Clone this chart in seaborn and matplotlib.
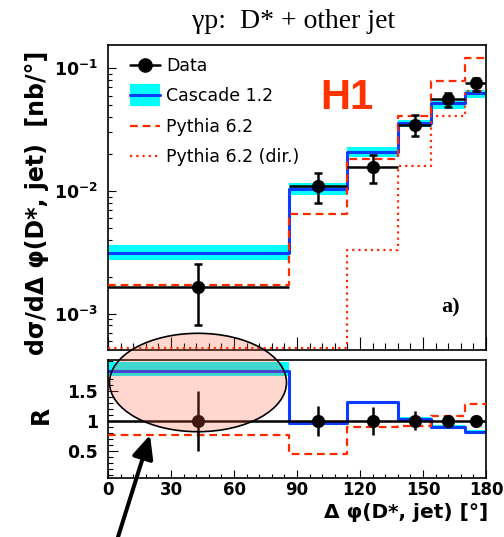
import numpy as np
import pandas as pd
import matplotlib
matplotlib.use("Agg")
import matplotlib.pyplot as plt
import seaborn as sns
from matplotlib.patches import Ellipse, FancyArrowPatch
from matplotlib.lines import Line2D
from matplotlib.ticker import MultipleLocator, LogLocator, NullFormatter, FixedLocator

# ---------------- data ----------------
bin_edges = [0, 86, 114, 138, 154, 170, 180]
bin_centers = [43, 100, 126, 146, 162, 175]

data_xsec = [1.66e-3, 1.09e-2, 1.57e-2, 3.46e-2, 5.6e-2, 7.53e-2]
data_hi = [2.54e-3, 1.39e-2, 1.96e-2, 4.2e-2, 6.3e-2, 8.4e-2]
data_lo = [8.1e-4, 7.9e-3, 1.16e-2, 2.81e-2, 4.85e-2, 6.55e-2]

cascade = [3.13e-3, 1.03e-2, 2.09e-2, 3.56e-2, 5.17e-2, 6.24e-2]
cascade_lo = [2.74e-3, 9.2e-3, 1.9e-2, 3.3e-2, 4.7e-2, 5.68e-2]
cascade_hi = [3.6e-3, 1.16e-2, 2.29e-2, 3.78e-2, 5.42e-2, 6.64e-2]

pythia = [1.7e-3, 6.44e-3, 1.81e-2, 4.06e-2, 7.87e-2, 0.121]
pythia_dir = [5.2e-4, 5.2e-4, 3.31e-3, 1.59e-2, 4.06e-2, 6.5e-2]

ratio_data = [1, 1, 1, 1, 1, 1]
ratio_err = [0.5, 0.25, 0.23, 0.16, 0.1, 0.1]
ratio_cascade = [1.83, 0.96, 1.31, 1.03, 0.905, 0.81]
ratio_cascade_lo = [1.76, 0.93, 1.28, 1.0, 0.88, 0.78]
ratio_cascade_hi = [1.98, 0.97, 1.34, 1.06, 0.93, 0.84]
ratio_pythia = [0.77, 0.45, 0.89, 0.92, 1.08, 1.28]

x_ticks = [0, 30, 60, 90, 120, 150, 180]
title_text = "γp:  D* + other jet"
ylabel_top = "dσ/dΔ φ(D*, jet)  [nb/°]"
ylabel_bot = "R"
xlabel = "Δ φ(D*, jet) [°]"
legend_labels = ["Data", "Cascade 1.2", "Pythia 6.2", "Pythia 6.2 (dir.)"]

# ---------------- style ----------------
sns.set_style("ticks")
plt.rcParams["font.family"] = ["DejaVu Sans"]
plt.rcParams["mathtext.fontset"] = "dejavusans"
for key in ["text.color", "axes.labelcolor", "xtick.color", "ytick.color",
            "axes.edgecolor"]:
    plt.rcParams[key] = "black"

BLUE = "#0a3cff"
CYAN = "#00ffff"
RED = "#ff2a00"
DASH = (0, (3.5, 2.2))
DOT = (0, (1.0, 1.8))

fig = plt.figure(figsize=(5.04, 5.37), dpi=100)
W, H = 504.0, 537.0
ax = fig.add_axes([108 / W, 1 - 350 / H, 378 / W, 305 / H])
axr = fig.add_axes([108 / W, 1 - 477.5 / H, 378 / W, 117.5 / H])


def ext(v):
    return list(v) + [v[-1]]


def step(axis, vals, **kw):
    df = pd.DataFrame({"x": bin_edges, "y": ext(vals)})
    sns.lineplot(data=df, x="x", y="y", ax=axis, drawstyle="steps-post",
                 sort=False, estimator=None, legend=False, **kw)


# ---------------- top panel ----------------
ax.set_yscale("log")
ax.fill_between(bin_edges, ext(cascade_lo), ext(cascade_hi), step="post",
                color=CYAN, lw=0, zorder=1)
step(ax, cascade, color=BLUE, lw=2.2, zorder=2)
step(ax, pythia, color=RED, lw=1.6, linestyle=DASH, zorder=3)
step(ax, pythia_dir, color=RED, lw=1.6, linestyle=DOT, zorder=3)

yc = np.array(data_xsec)
xc = np.array(bin_centers)
edges = np.array(bin_edges)
xerr = [xc - edges[:-1], edges[1:] - xc]
ax.errorbar(xc, yc, xerr=xerr, fmt="none", ecolor="black", elinewidth=1.8,
            capsize=0, zorder=4)
ax.errorbar(xc, yc, yerr=[yc - np.array(data_lo), np.array(data_hi) - yc],
            fmt="none", ecolor="black", elinewidth=1.8, capsize=3.2,
            capthick=1.8, zorder=4)
sns.scatterplot(x=bin_centers, y=data_xsec, ax=ax, color="black", s=90,
                edgecolor="black", linewidth=0, zorder=5, legend=False)

ax.set_xlim(0, 180)
ax.set_ylim(5.04e-4, 0.155)
ax.set_xlabel("")
ax.set_ylabel("")
ax.xaxis.set_major_locator(FixedLocator(x_ticks))
ax.xaxis.set_minor_locator(MultipleLocator(6))
ax.set_xticklabels([])
ax.yaxis.set_major_locator(FixedLocator([1e-3, 1e-2, 1e-1]))
ax.set_yticklabels([r"$\mathbf{10^{-3}}$", r"$\mathbf{10^{-2}}$", r"$\mathbf{10^{-1}}$"])
ax.yaxis.set_minor_locator(LogLocator(base=10, subs=np.arange(2, 10)))
ax.yaxis.set_minor_formatter(NullFormatter())
ax.tick_params(axis="x", which="major", direction="in", length=9.4, width=0.8,
               top=False)
ax.tick_params(axis="x", which="minor", direction="in", length=5, width=0.8,
               top=False)
ax.tick_params(axis="y", which="major", direction="in", length=6, width=0.8,
               right=False, labelsize=12.5, pad=7)
ax.tick_params(axis="y", which="minor", direction="in", length=3.2, width=0.8,
               right=False)
for s in ax.spines.values():
    s.set_visible(True)
    s.set_linewidth(1.2)
    s.set_color("black")

handles = [
    Line2D([], [], color="black", marker="o", markersize=9.5, lw=1.8),
    (Line2D([], [], color=CYAN, lw=16, solid_capstyle="butt"),
     Line2D([], [], color=BLUE, lw=2.2)),
    Line2D([], [], color=RED, lw=1.6, linestyle=DASH),
    Line2D([], [], color=RED, lw=1.6, linestyle=DOT),
]
ax.legend(handles, legend_labels, loc="upper left",
          bbox_to_anchor=(0.058, 0.962), frameon=False, borderpad=0,
          borderaxespad=0, fontsize=12.5, handlelength=1.72,
          handletextpad=0.35, labelspacing=0.72)

ax.text(0.632, 0.826, "H1", transform=ax.transAxes, ha="center", va="center",
        fontsize=30, fontweight="bold", color="#ff3300", family="Liberation Sans")
ax.text(0.931, 0.141, "a)", transform=ax.transAxes, ha="right", va="center",
        fontsize=16, fontweight="bold", family="Liberation Serif")

# ---------------- ratio panel ----------------
axr.fill_between(bin_edges, ext(ratio_cascade_lo), ext(ratio_cascade_hi),
                 step="post", color=CYAN, lw=0, zorder=1)
step(axr, ratio_cascade, color=BLUE, lw=2.2, zorder=2)
step(axr, ratio_pythia, color=RED, lw=1.6, linestyle=DASH, zorder=3)
axr.axhline(1, color="black", lw=1.8, zorder=4)
axr.errorbar(bin_centers, ratio_data, yerr=ratio_err, fmt="none",
             ecolor="black", elinewidth=1.8, capsize=0, zorder=4)
sns.scatterplot(x=bin_centers, y=ratio_data, ax=axr, color="black", s=90,
                edgecolor="black", linewidth=0, zorder=5, legend=False)

axr.set_xlim(0, 180)
axr.set_ylim(0.05, 2.02)
axr.set_xlabel("")
axr.set_ylabel("")
axr.xaxis.set_major_locator(FixedLocator(x_ticks))
axr.set_xticklabels([str(t) for t in x_ticks], fontweight="bold")
axr.xaxis.set_minor_locator(MultipleLocator(6))
axr.yaxis.set_major_locator(FixedLocator([0.5, 1, 1.5]))
axr.set_yticklabels(["0.5", "1", "1.5"], fontweight="bold")
axr.yaxis.set_minor_locator(MultipleLocator(0.1))
axr.tick_params(axis="x", which="major", direction="in", length=6, width=0.8,
                top=False, labelsize=12, pad=2.5)
axr.tick_params(axis="x", which="minor", direction="in", length=3, width=0.8,
                top=False)
axr.tick_params(axis="y", which="major", direction="in", length=7, width=0.8,
                right=False, labelsize=12.5, pad=7)
axr.tick_params(axis="y", which="minor", direction="in", length=3.6, width=0.8,
                right=False)
for s in axr.spines.values():
    s.set_visible(True)
    s.set_linewidth(1.2)
    s.set_color("black")

# ---------------- figure texts ----------------
fig.text(294 / W, 1 - 27.5 / H, title_text, ha="center", va="baseline",
         fontsize=20, family="Liberation Serif")
fig.text(37 / W, 1 - 203 / H, ylabel_top, rotation=90, ha="center",
         va="center", fontsize=17, fontweight="bold")
fig.text(41 / W, 1 - 415 / H, ylabel_bot, rotation=90, ha="center",
         va="center", fontsize=17, fontweight="bold")
fig.text(488 / W, 1 - 518 / H, xlabel, ha="right", va="baseline",
         fontsize=14.5, fontweight="bold")

# ---------------- annotation: ellipse and arrow ----------------
ell = Ellipse((198 / W, 1 - 382.5 / H), 177 / W, 98.4 / H,
              transform=fig.transFigure, facecolor=(1.0, 0.39, 0.235, 0.25),
              edgecolor="black", lw=1.2, zorder=10)
fig.add_artist(ell)
arr = FancyArrowPatch((115.5 / W, 1 - 545 / H), (150 / W, 1 - 435 / H),
                      transform=fig.transFigure,
                      arrowstyle="-|>,head_length=0.7,head_width=0.32",
                      mutation_scale=20, lw=2.9, color="black",
                      shrinkA=0, shrinkB=0, zorder=11)
fig.add_artist(arr)

fig.savefig("out.png", dpi=100)
